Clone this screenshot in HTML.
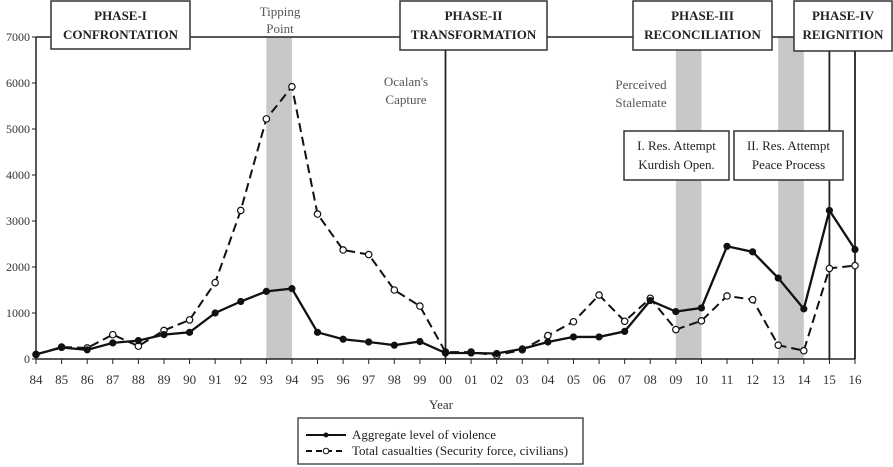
<!DOCTYPE html>
<html><head><meta charset="utf-8"><style>
html,body{margin:0;padding:0;background:#fff;}
svg{display:block;font-family:"Liberation Serif",serif;}
</style></head><body>
<svg id="chart" width="893" height="467" viewBox="0 0 893 467" xmlns="http://www.w3.org/2000/svg"></svg>
<script>
const years = ["84","85","86","87","88","89","90","91","92","93","94","95","96","97","98","99","00","01","02","03","04","05","06","07","08","09","10","11","12","13","14","15","16"];
const aggregate = [100,250,200,350,400,530,580,1000,1250,1470,1530,580,430,370,300,380,130,130,120,220,370,480,480,600,1270,1030,1110,2450,2330,1760,1090,3230,2380];
const casualties = [100,260,240,530,280,620,850,1660,3230,5220,5920,3150,2370,2270,1500,1150,150,150,80,200,510,810,1390,820,1320,640,830,1370,1290,300,180,1970,2030];
const yTicks = [0,1000,2000,3000,4000,5000,6000,7000];
const bands = [[9,10],[25,26],[29,30]];

const NS="http://www.w3.org/2000/svg";
const svg=document.getElementById('chart');
const X0=36, DX=(855-36)/32, Y0=359, YS=(359-37)/7000;
const xs=i=>X0+i*DX, ys=v=>Y0-v*YS;
function el(t,a,p){const e=document.createElementNS(NS,t);for(const k in a)e.setAttribute(k,a[k]);(p||svg).appendChild(e);return e;}
function txt(x,y,s,a){const t=el('text',Object.assign({x:x,y:y,'text-anchor':'middle','font-size':13,fill:'#333'},a||{}));t.textContent=s;return t;}

// bands
bands.forEach((b,i)=>{const r=el('rect',{x:xs(b[0]),y:37,width:xs(b[1])-xs(b[0]),height:Y0-37,fill:'#c8c8c8'});

});

// axes
el('line',{x1:X0,y1:37,x2:X0,y2:Y0,stroke:'#222','stroke-width':1.5});
el('line',{x1:X0,y1:Y0,x2:xs(32),y2:Y0,stroke:'#222','stroke-width':1.5});
el('line',{x1:X0,y1:37,x2:xs(32),y2:37,stroke:'#222','stroke-width':1.5});
[16,31,32].forEach(i=>el('line',{x1:xs(i),y1:37,x2:xs(i),y2:Y0,stroke:'#222','stroke-width':1.8}));

yTicks.forEach(v=>{el('line',{x1:X0-4,y1:ys(v),x2:X0,y2:ys(v),stroke:'#222'});
const t=txt(X0-6,ys(v)+4,String(v),{'text-anchor':'end','font-size':12});

});
years.forEach((y,i)=>{el('line',{x1:xs(i),y1:Y0,x2:xs(i),y2:Y0+5,stroke:'#222'});
const t=txt(xs(i),Y0+25,y,{'font-size':13});

});
const xt=txt(441,409,'Year',{'font-size':13});



// series
function series(vals,dash,filled,name){
  const p=el('polyline',{points:vals.map((v,i)=>xs(i)+','+ys(v)).join(' '),fill:'none',stroke:'#111','stroke-width':dash?2:2.3,'stroke-dasharray':dash?'9,5':'none'});
  
  
  vals.forEach((v,i)=>{const c=el('circle',{cx:xs(i),cy:ys(v),r:filled?3:3.2,fill:filled?'#111':'#fff',stroke:'#111','stroke-width':1.2});
  
  });
}
series(casualties,true,false,'casualties');
series(aggregate,false,true,'aggregate');

// boxes
function box(x,y,w,h,lines,name,bold,fs){
  const g=el('g',{});
  
  
  el('rect',{x:x,y:y,width:w,height:h,fill:'#fff',stroke:'#333','stroke-width':1.5},g);
  lines.forEach((s,i)=>{const t=txt(x+w/2,y+19+i*19,s,{'font-size':fs||13,'font-weight':bold?'bold':'normal',fill:'#222'});g.appendChild(t);});
}
box(51,1,139,48,['PHASE-I','CONFRONTATION'],'phase-1-box',true);
box(400,1,147,49,['PHASE-II','TRANSFORMATION'],'phase-2-box',true);
box(633,1,139,49,['PHASE-III','RECONCILIATION'],'phase-3-box',true);
box(794,1,98,50,['PHASE-IV','REIGNITION'],'phase-4-box',true);
box(624,131,105,49,['I. Res. Attempt','Kurdish Open.'],'resolution-attempt-1-box',false,13);
box(734,131,109,49,['II. Res. Attempt','Peace Process'],'resolution-attempt-2-box',false,13);

[['Tipping',280,16],['Point',280,33],["Ocalan's",406,86],['Capture',406,104],['Perceived',641,89],['Stalemate',641,107]].forEach(a=>{
  const t=txt(a[1],a[2],a[0],{'font-size':13,fill:'#555'});
  
  });

// legend
const lg=el('g',{});


el('rect',{x:298,y:418,width:285,height:46,fill:'#fff',stroke:'#333','stroke-width':1.3},lg);
el('line',{x1:306,y1:435,x2:346,y2:435,stroke:'#111','stroke-width':2},lg);
el('circle',{cx:326,cy:435,r:2.5,fill:'#111'},lg);
el('line',{x1:306,y1:451,x2:346,y2:451,stroke:'#111','stroke-width':2,'stroke-dasharray':'6,4'},lg);
el('circle',{cx:326,cy:451,r:2.8,fill:'#fff',stroke:'#111'},lg);
const l1=txt(352,439,'Aggregate level of violence',{'text-anchor':'start','font-size':13,fill:'#222'});lg.appendChild(l1);


const l2=txt(352,455,'Total casualties (Security force, civilians)',{'text-anchor':'start','font-size':13,fill:'#222'});lg.appendChild(l2);


</script>
</body></html>
